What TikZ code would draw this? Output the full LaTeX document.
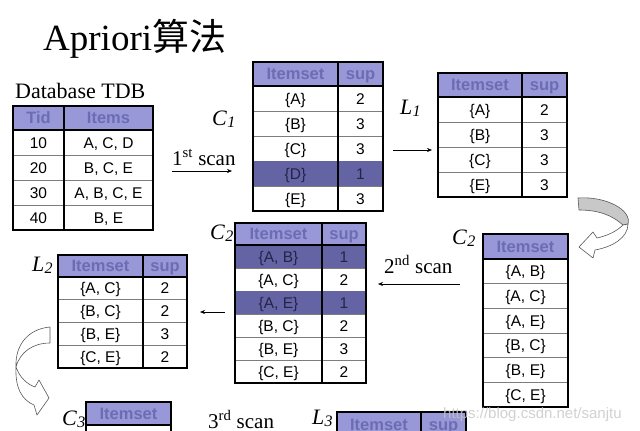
\documentclass[tikz,border=0pt]{standalone}
\usepackage{fontspec}
\setmainfont{Liberation Serif}
\setsansfont{Liberation Sans}
\newfontfamily\cjk{Noto Sans CJK SC}
\usetikzlibrary{arrows.meta}

\definecolor{hdrfill}{RGB}{152,152,216}
\definecolor{hdrtext}{RGB}{108,108,180}
\definecolor{hlfill}{RGB}{100,100,165}
\definecolor{hltext}{RGB}{35,35,75}
\definecolor{rowline}{RGB}{125,125,125}
\definecolor{arrowgray}{RGB}{200,200,200}

\tikzset{
 cell/.style={font=\sffamily\fontsize{15.5}{16}\selectfont, inner sep=0pt, anchor=base},
 hcell/.style={font=\sffamily\bfseries\fontsize{16.5}{17}\selectfont, text=hdrtext, inner sep=0pt, anchor=base},
 outerline/.style={line width=2pt, draw=black},
 innerline/.style={line width=0.8pt, draw=rowline},
 divline/.style={line width=1.6pt, draw=black},
 lbl/.style={font=\fontsize{22}{24}\selectfont, inner sep=0pt, anchor=base west},
 scanlbl/.style={font=\fontsize{21}{24}\selectfont, inner sep=0pt, anchor=base west},
 flow/.style={-{Stealth[length=5pt,width=4pt]}, line width=0.6pt},
 bigarrow/.style={draw=black!65, line width=0.6pt, line join=round},
}

\newcommand{\lab}[2]{\textit{#1}\kern0.3pt\raisebox{-2.5pt}{\fontsize{16}{16}\selectfont\itshape #2}}

% two-column table: name, left, div, right, top, headerbottom, bottom, rowheight, rows
\newcommand{\tabtwo}[9]{%
  \fill[hdrfill] (#2,#5) rectangle (#4,#6);
  \node[hcell] (#1-ha) at ({(#2+#3)/2},{(#5+#6)/2+5.9}) {\hA};
  \node[hcell] (#1-hb) at ({(#3+#4)/2},{(#5+#6)/2+5.9}) {\hB};
  \foreach \a/\b/\h [count=\i] in {#9} {
    \pgfmathsetmacro\yt{#6+(\i-1)*#8}
    \pgfmathsetmacro\yb{#6+\i*#8}
    \ifnum\h=1 \fill[hlfill] (#2,\yt) rectangle (#4,\yb); \def\tc{hltext}\else\def\tc{black}\fi
    \node[cell,text=\tc] (#1-a\i) at ({(#2+#3)/2},{(\yt+\yb)/2+5.5}) {\a};
    \node[cell,text=\tc] (#1-b\i) at ({(#3+#4)/2},{(\yt+\yb)/2+5.5}) {\b};
    \draw[innerline] (#2,\yb) -- (#4,\yb);
  }
  \draw[divline] (#2,#6) -- (#4,#6);
  \draw[divline] (#3,#5) -- (#3,#7);
  \draw[outerline] (#2,#5) rectangle (#4,#7);
}
% one-column table: name, left, right, top, headerbottom, bottom, rowheight, rows
\newcommand{\tabone}[8]{%
  \fill[hdrfill] (#2,#4) rectangle (#3,#5);
  \node[hcell] (#1-ha) at ({(#2+#3)/2},{(#4+#5)/2+5.9}) {Itemset};
  \foreach \a [count=\i] in {#8} {
    \pgfmathsetmacro\yt{#5+(\i-1)*#7}
    \pgfmathsetmacro\yb{#5+\i*#7}
    \node[cell] (#1-a\i) at ({(#2+#3)/2},{(\yt+\yb)/2+5.5}) {\a};
    \draw[innerline] (#2,\yb) -- (#3,\yb);
  }
  \draw[divline] (#2,#5) -- (#3,#5);
  \draw[outerline] (#2,#4) rectangle (#3,#6);
}

\begin{document}
\begin{tikzpicture}[x=1pt,y=-1pt]
\useasboundingbox (0,0) rectangle (640,431);
\clip (0,0) rectangle (640,431);
\fill[white] (0,0) rectangle (640,431);

% title
\node[inner sep=0pt, anchor=base west, font=\fontsize{37}{40}\selectfont] (title) at (43,50) {Apriori{\cjk 算法}};

% Database TDB
\node[inner sep=0pt, anchor=base west, font=\fontsize{22}{24}\selectfont] (dbt) at (15,98) {Database TDB};
\def\hA{Tid}\def\hB{Items}
\tabtwo{tdb}{13}{64}{153}{106}{130}{230}{25}{10/{A, C, D}/0, 20/{B, C, E}/0, 30/{A, B, C, E}/0, 40/{B, E}/0}

\def\hA{Itemset}\def\hB{sup}
% C1
\tabtwo{cone}{253}{338}{383}{62}{86}{211}{25}{\{A\}/2/0, \{B\}/3/0, \{C\}/3/0, \{D\}/1/1, \{E\}/3/0}
% L1
\tabtwo{lone}{438}{522}{567}{73}{97}{197}{25}{\{A\}/2/0, \{B\}/3/0, \{C\}/3/0, \{E\}/3/0}
% C2 middle
\tabtwo{ctwo}{235}{322}{366}{223}{245}{383}{23}{{\{A, B\}}/1/1, {\{A, C\}}/2/0, {\{A, E\}}/1/1, {\{B, C\}}/2/0, {\{B, E\}}/3/0, {\{C, E\}}/2/0}
% L2
\tabtwo{ltwo}{58}{143}{187}{255}{277}{368}{22.75}{{\{A, C\}}/2/0, {\{B, C\}}/2/0, {\{B, E\}}/3/0, {\{C, E\}}/2/0}
% C2 right
\tabone{ctwor}{483}{568}{234}{259}{407}{24.67}{{\{A, B\}}, {\{A, C\}}, {\{A, E\}}, {\{B, C\}}, {\{B, E\}}, {\{C, E\}}}

% C3 (cut off)
\fill[hdrfill] (86,402) rectangle (171,425);
\node[hcell] (cthree-ha) at (128.5,419.4) {Itemset};
\draw[divline] (86,425) -- (171,425);
\draw[outerline] (86,445) -- (86,402) -- (171,402) -- (171,445);

% L3 (cut off)
\fill[hdrfill] (337,412) rectangle (466,440);
\node[hcell] (lthree-ha) at (379,430) {Itemset};
\node[hcell] (lthree-hb) at (443.5,430) {sup};
\draw[divline] (421,412) -- (421,445);
\draw[outerline] (337,445) -- (337,412) -- (466,412) -- (466,445);

% labels
\node[lbl] (lC1) at (212,125) {\lab{C}{1}};
\node[lbl] (lL1) at (400,114) {\lab{L}{1}};
\node[lbl] (lC2r) at (452,244) {\lab{C}{2}};
\node[lbl] (lC2m) at (210,239) {\lab{C}{2}};
\node[lbl] (lL2) at (32,271) {\lab{L}{2}};
\node[lbl] (lC3) at (62,425) {\lab{C}{3}};
\node[lbl] (lL3) at (312,424) {\lab{L}{3}};

% scans
\node[scanlbl] (scan1) at (172,165) {1\textsuperscript{st} scan};
\node[scanlbl] (scan2) at (384,273) {2\textsuperscript{nd} scan};
\node[scanlbl] (scan3) at (208,428) {3\textsuperscript{rd} scan};

% straight arrows
\coordinate (a1s) at (172,171); \coordinate (a1e) at (232,171);
\coordinate (a2s) at (393,150); \coordinate (a2e) at (432,150);
\coordinate (a3s) at (460,284); \coordinate (a3e) at (378,284);
\coordinate (a4s) at (225,312); \coordinate (a4e) at (200,312);
\draw[flow] (a1s) -- (a1e);
\draw[flow] (a2s) -- (a2e);
\draw[flow] (a3s) -- (a3e);
\draw[flow] (a4s) -- (a4e);

% right curved arrow
\filldraw[bigarrow, fill=arrowgray] (578,198) .. controls (606,196) and (632,210) .. (628,224) -- (623,225) .. controls (612,215) and (598,210) .. (579,210) -- cycle;
\filldraw[bigarrow, fill=white] (623,225) .. controls (616,232) and (606,236) .. (597,238) -- (593,232) -- (579,247) -- (593,258) -- (595,250) .. controls (612,247) and (628,238) .. (628,224) -- cycle;

% left curved arrow
\filldraw[bigarrow, fill=white] (50,327) .. controls (28,329) and (15,345) .. (16,367) .. controls (20,352) and (33,343) .. (50,343) -- cycle;
\filldraw[bigarrow, fill=white] (16,367) .. controls (20,378) and (27,384) .. (35,387) -- (39,380) -- (49,398) -- (37,415) -- (34,405) .. controls (22,400) and (15,388) .. (16,367) -- cycle;

% watermark
\node[inner sep=0pt, anchor=base west, font=\sffamily\fontsize{15}{16}\selectfont, text=gray!45, opacity=0.8] (wm) at (443,418) {https://blog.csdn.net/sanjtu};
\end{tikzpicture}
\end{document}
